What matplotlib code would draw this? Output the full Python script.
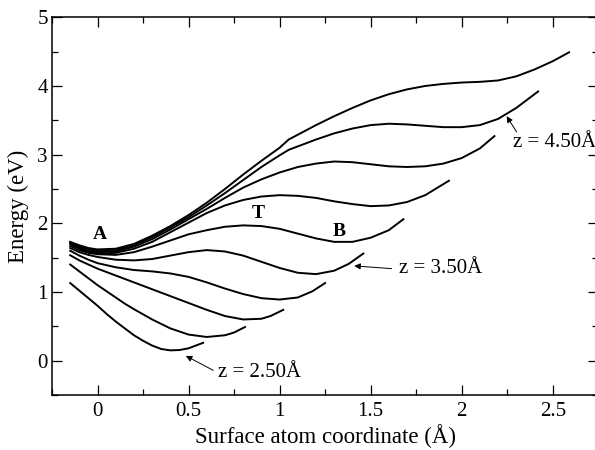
import matplotlib
matplotlib.use('Agg')
import matplotlib.pyplot as plt
from matplotlib.ticker import MultipleLocator

plt.rcParams['font.family'] = ['Liberation Serif', 'DejaVu Serif']
plt.rcParams['mathtext.fontset'] = 'stix'

# Energy curves, one per height z of the adatom (x in Angstrom, energy in eV)
x_250 = [-0.15, -0.1, -0.05, 0.0, 0.05, 0.1, 0.15, 0.2, 0.25, 0.3, 0.35, 0.4, 0.45, 0.5, 0.58]
e_250 = [1.13, 1.02, 0.91, 0.80, 0.68, 0.57, 0.47, 0.37, 0.29, 0.22, 0.17, 0.15, 0.155, 0.18, 0.26]

x_275 = [-0.15, -0.1, -0.05, 0.0, 0.05, 0.1, 0.15, 0.2, 0.3, 0.4, 0.5, 0.6, 0.7, 0.75, 0.81]
e_275 = [1.40, 1.30, 1.20, 1.10, 1.01, 0.92, 0.83, 0.75, 0.60, 0.47, 0.38, 0.345, 0.37, 0.41, 0.49]

x_300 = [-0.15, -0.1, -0.05, 0.0, 0.1, 0.2, 0.3, 0.4, 0.5, 0.6, 0.7, 0.8, 0.9, 0.95, 1.02]
e_300 = [1.535, 1.46, 1.40, 1.34, 1.24, 1.14, 1.04, 0.94, 0.84, 0.74, 0.65, 0.60, 0.61, 0.65, 0.74]

x_325 = [-0.15, -0.1, -0.05, 0.0, 0.1, 0.2, 0.3, 0.4, 0.5, 0.6, 0.7, 0.8, 0.9, 1.0, 1.1, 1.18, 1.25]
e_325 = [1.60, 1.53, 1.47, 1.42, 1.36, 1.32, 1.30, 1.27, 1.22, 1.14, 1.05, 0.97, 0.91, 0.89, 0.92, 1.01, 1.13]

x_350 = [-0.15, -0.1, -0.05, 0.0, 0.1, 0.2, 0.3, 0.4, 0.5, 0.6, 0.7, 0.8, 0.9, 1.0, 1.1, 1.2, 1.3, 1.38, 1.46]
e_350 = [1.64, 1.58, 1.54, 1.51, 1.47, 1.46, 1.48, 1.53, 1.58, 1.61, 1.59, 1.53, 1.44, 1.35, 1.28, 1.26, 1.31, 1.41, 1.56]

x_375 = [-0.15, -0.1, -0.05, 0.0, 0.1, 0.2, 0.3, 0.4, 0.5, 0.6, 0.7, 0.8, 0.9, 1.0, 1.1, 1.2, 1.3, 1.4, 1.5, 1.6, 1.68]
e_375 = [1.67, 1.61, 1.57, 1.55, 1.54, 1.58, 1.66, 1.75, 1.84, 1.90, 1.95, 1.97, 1.96, 1.92, 1.85, 1.78, 1.73, 1.73, 1.79, 1.90, 2.06]

x_400 = [-0.15, -0.1, -0.05, 0.0, 0.1, 0.2, 0.3, 0.4, 0.5, 0.6, 0.7, 0.8, 0.9, 1.0, 1.1, 1.2, 1.3, 1.4, 1.5, 1.6, 1.7, 1.8, 1.93]
e_400 = [1.70, 1.63, 1.58, 1.56, 1.57, 1.63, 1.73, 1.87, 2.01, 2.15, 2.26, 2.34, 2.39, 2.41, 2.40, 2.37, 2.32, 2.28, 2.25, 2.26, 2.31, 2.41, 2.62]

x_425 = [-0.15, -0.1, -0.05, 0.0, 0.1, 0.2, 0.3, 0.4, 0.5, 0.6, 0.7, 0.8, 0.9, 1.0, 1.1, 1.2, 1.3, 1.4, 1.5, 1.6, 1.7, 1.8, 1.9, 2.0, 2.1, 2.18]
e_425 = [1.71, 1.65, 1.60, 1.58, 1.59, 1.66, 1.77, 1.91, 2.06, 2.21, 2.37, 2.52, 2.64, 2.74, 2.82, 2.87, 2.90, 2.89, 2.86, 2.83, 2.82, 2.83, 2.87, 2.95, 3.09, 3.27]

x_450 = [-0.15, -0.1, -0.05, 0.0, 0.1, 0.2, 0.3, 0.4, 0.5, 0.6, 0.7, 0.8, 0.9, 1.0, 1.05, 1.1, 1.2, 1.3, 1.4, 1.5, 1.6, 1.7, 1.8, 1.9, 2.0, 2.1, 2.2, 2.3, 2.42]
e_450 = [1.72, 1.66, 1.62, 1.60, 1.61, 1.68, 1.80, 1.94, 2.09, 2.26, 2.44, 2.63, 2.82, 2.99, 3.07, 3.12, 3.22, 3.31, 3.38, 3.43, 3.45, 3.44, 3.42, 3.40, 3.40, 3.43, 3.52, 3.68, 3.92]

x_475 = [-0.15, -0.1, -0.05, 0.0, 0.1, 0.2, 0.3, 0.4, 0.5, 0.6, 0.7, 0.8, 0.9, 1.0, 1.05, 1.1, 1.2, 1.3, 1.4, 1.5, 1.6, 1.7, 1.8, 1.9, 2.0, 2.1, 2.2, 2.3, 2.4, 2.5, 2.59]
e_475 = [1.73, 1.68, 1.64, 1.62, 1.63, 1.70, 1.82, 1.96, 2.12, 2.30, 2.50, 2.71, 2.91, 3.10, 3.22, 3.29, 3.43, 3.56, 3.68, 3.79, 3.88, 3.95, 4.00, 4.03, 4.05, 4.06, 4.08, 4.14, 4.24, 4.36, 4.49]

curves = [(x_250, e_250), (x_275, e_275), (x_300, e_300), (x_325, e_325),
          (x_350, e_350), (x_375, e_375), (x_400, e_400), (x_425, e_425),
          (x_450, e_450), (x_475, e_475)]

fig = plt.figure(figsize=(5.95, 4.5), dpi=100)
ax = fig.add_axes([0.0874, 0.1222, 0.918, 0.8394])

for xs, es in curves:
    ax.plot(xs, es, color='black', lw=1.4)

ax.set_xlim(-0.25, 2.75)
ax.set_ylim(-0.5, 5)
ax.xaxis.set_major_locator(MultipleLocator(0.5))
ax.xaxis.set_minor_locator(MultipleLocator(0.25))
ax.yaxis.set_major_locator(MultipleLocator(1))
ax.yaxis.set_minor_locator(MultipleLocator(0.5))
ax.set_xticks([0, 0.5, 1, 1.5, 2, 2.5])
ax.set_xticklabels(['0', '0.5', '1', '1.5', '2', '2.5'])
ax.tick_params(which='both', direction='in', top=True, right=True, width=0.9, labelsize=15)
ax.tick_params(which='major', length=7.2)
ax.tick_params(which='minor', length=4.3)
ax.tick_params(axis='x', pad=5)
ax.tick_params(axis='y', pad=3)
for s in ax.spines.values():
    s.set_linewidth(1.1)

ax.set_xlabel('Surface atom coordinate (Å)', fontsize=16.5, labelpad=2)
ax.set_ylabel('Energy (eV)', fontsize=16.5, labelpad=6)

# site labels
ax.text(0.013, 1.83, 'A', fontsize=14, fontweight='bold', ha='center', va='center')
ax.text(0.882, 2.14, 'T', fontsize=14, fontweight='bold', ha='center', va='center')
ax.text(1.328, 1.875, 'B', fontsize=14, fontweight='bold', ha='center', va='center')

arrow = dict(arrowstyle='-|>', color='black', lw=0.7, mutation_scale=9, shrinkA=0, shrinkB=0)
ax.annotate('', xy=(0.485, 0.07), xytext=(0.635, -0.14), arrowprops=arrow)
ax.text(0.663, -0.166, 'z = 2.50Å', fontsize=15, ha='left', va='center')
ax.annotate('', xy=(1.41, 1.38), xytext=(1.615, 1.34), arrowprops=arrow)
ax.text(1.655, 1.34, 'z = 3.50Å', fontsize=15, ha='left', va='center')
ax.annotate('', xy=(2.247, 3.56), xytext=(2.302, 3.33), arrowprops=arrow)
ax.text(2.284, 3.18, 'z = 4.50Å', fontsize=15, ha='left', va='center')

fig.savefig('out.png', dpi=100)
